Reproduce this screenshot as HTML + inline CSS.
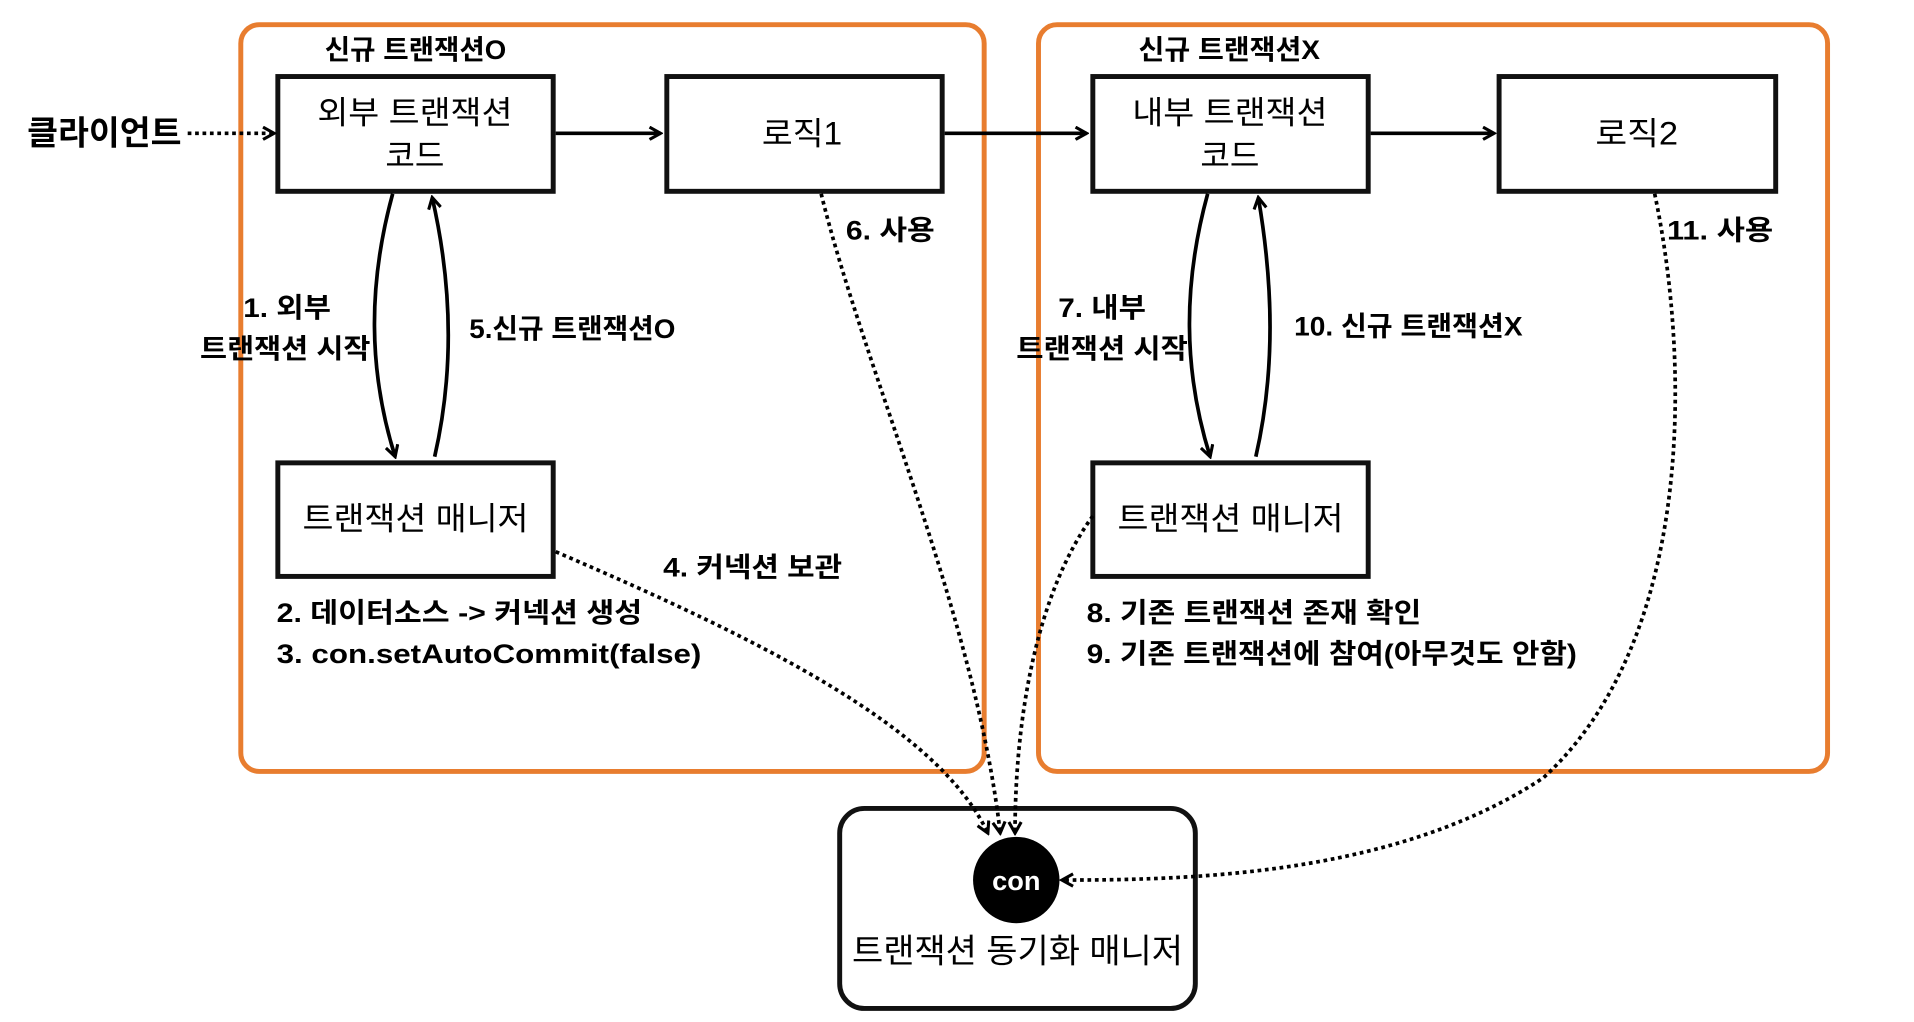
<!DOCTYPE html>
<html><head><meta charset="utf-8"><style>
html,body{margin:0;padding:0;background:#fff;width:1914px;height:1022px;overflow:hidden}
svg{display:block}
text{font-family:"Liberation Sans","Noto Sans CJK KR",sans-serif;fill:#000}
.b{font-weight:bold;font-size:22px}
.n{font-size:26px}
</style></head><body>
<svg width="1914" height="1022" viewBox="0 0 1550 828" preserveAspectRatio="none" xmlns="http://www.w3.org/2000/svg">
<defs>
<marker id="a" markerWidth="12" markerHeight="12" refX="10" refY="6" orient="auto" markerUnits="userSpaceOnUse">
<path d="M1,1 L10,6 L1,11" fill="none" stroke="#000" stroke-width="2.5"/></marker>
</defs>
<rect x="195" y="20" width="602" height="605" rx="15" fill="none" stroke="#E87D2F" stroke-width="4"/>
<rect x="841" y="20" width="639" height="605" rx="15" fill="none" stroke="#E87D2F" stroke-width="4"/>
<g fill="none" stroke="#111" stroke-width="4">
<rect x="225" y="62" width="223" height="93"/>
<rect x="540" y="62" width="223" height="93"/>
<rect x="885" y="62" width="223" height="93"/>
<rect x="1214" y="62" width="224" height="93"/>
<rect x="225" y="375" width="223" height="92"/>
<rect x="885" y="375" width="223" height="92"/>
<rect x="680" y="655" width="288" height="162" rx="20"/>
</g>
<circle cx="823" cy="713" r="35" fill="#000"/>
<text x="823" y="721" text-anchor="middle" style="fill:#fff;font-weight:bold;font-size:22px">con</text>
<g lengthAdjust="spacingAndGlyphs">
<text class="b" x="263" y="48" textLength="147" lengthAdjust="spacingAndGlyphs">신규 트랜잭션O</text>
<text class="b" x="922" y="48" textLength="147" lengthAdjust="spacingAndGlyphs">신규 트랜잭션X</text>
<text x="22" y="117" style="font-weight:bold;font-size:27px" textLength="125" lengthAdjust="spacingAndGlyphs">클라이언트</text>
</g>
<g class="n">
<text x="257" y="100" textLength="158" lengthAdjust="spacingAndGlyphs">외부 트랜잭션</text><text x="336" y="135" text-anchor="middle">코드</text>
<text x="617" y="117" textLength="65" lengthAdjust="spacingAndGlyphs">로직1</text>
<text x="917" y="100" textLength="158" lengthAdjust="spacingAndGlyphs">내부 트랜잭션</text><text x="996" y="135" text-anchor="middle">코드</text>
<text x="1292" y="117" textLength="67" lengthAdjust="spacingAndGlyphs">로직2</text>
<text x="245" y="429" textLength="183" lengthAdjust="spacingAndGlyphs">트랜잭션 매니저</text>
<text x="905" y="429" textLength="183" lengthAdjust="spacingAndGlyphs">트랜잭션 매니저</text>
<text x="690" y="780" style="font-size:27px" textLength="268" lengthAdjust="spacingAndGlyphs">트랜잭션 동기화 매니저</text>
</g>
<g class="b">
<text x="197" y="257" textLength="71" lengthAdjust="spacingAndGlyphs">1. 외부</text><text x="162" y="290" textLength="138" lengthAdjust="spacingAndGlyphs">트랜잭션 시작</text>
<text x="380" y="274" textLength="167" lengthAdjust="spacingAndGlyphs">5.신규 트랜잭션O</text>
<text x="685" y="194" textLength="72" lengthAdjust="spacingAndGlyphs">6. 사용</text>
<text x="537" y="467" textLength="145" lengthAdjust="spacingAndGlyphs">4. 커넥션 보관</text>
<text x="224" y="504" textLength="296" lengthAdjust="spacingAndGlyphs">2. 데이터소스 -&gt; 커넥션 생성</text>
<text x="224" y="537" textLength="344" lengthAdjust="spacingAndGlyphs">3. con.setAutoCommit(false)</text>
<text x="857" y="257" textLength="71" lengthAdjust="spacingAndGlyphs">7. 내부</text><text x="823" y="290" textLength="139" lengthAdjust="spacingAndGlyphs">트랜잭션 시작</text>
<text x="1048" y="272" textLength="185" lengthAdjust="spacingAndGlyphs">10. 신규 트랜잭션X</text>
<text x="1350" y="194" textLength="86" lengthAdjust="spacingAndGlyphs">11. 사용</text>
<text x="880" y="504" textLength="271" lengthAdjust="spacingAndGlyphs">8. 기존 트랜잭션 존재 확인</text>
<text x="880" y="537" textLength="397" lengthAdjust="spacingAndGlyphs">9. 기존 트랜잭션에 참여(아무것도 안함)</text>
</g>
<g fill="none" stroke="#000" stroke-width="3" marker-end="url(#a)">
<line x1="450" y1="108" x2="535" y2="108"/>
<line x1="765" y1="108" x2="880" y2="108"/>
<line x1="1110" y1="108" x2="1210" y2="108"/>
<path d="M318,157 C298,230 298,300 320,370"/>
<path d="M352,370 C368,300 366,230 350,160"/>
<path d="M978,157 C958,230 958,300 980,370"/>
<path d="M1017,370 C1033,300 1031,230 1019,160"/>
</g>
<g fill="none" stroke="#000" stroke-width="3" stroke-dasharray="3,3" marker-end="url(#a)">
<line x1="152" y1="108" x2="222" y2="108"/>
<path d="M665,157 C700,300 790,500 810,675"/>
<path d="M450,447 C620,520 760,590 800,675"/>
<path d="M885,418 C840,480 822,580 822,675"/>
<path d="M1340,157 C1370,300 1370,520 1250,630 C1130,710 960,713 860,713"/>
</g>
</svg>
</body></html>
